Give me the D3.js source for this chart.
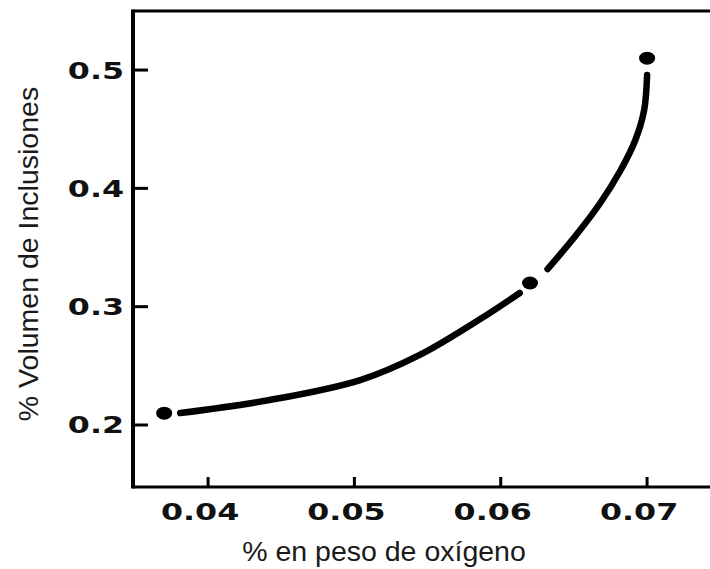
<!DOCTYPE html>
<html>
<head>
<meta charset="utf-8">
<script src="https://cdn.jsdelivr.net/npm/d3@7"></script>
<style>
  body { margin: 0; background: #fff; }
  .tick-label { font-family: "DejaVu Sans", sans-serif; font-weight: bold; font-size: 23.5px; fill: #111; }
  .axis-title { font-family: "Liberation Sans", Arial, sans-serif; font-size: 28.5px; fill: #1a1a1a; }
</style>
</head>
<body>
<div id="figure"></div>
<script>
'use strict';

// measured points
const oxygen = [0.037, 0.062, 0.070];
const inclusions = [0.21, 0.32, 0.51];

// hand-drawn curve, null splits the two segments
const curveX = [0.0381, 0.0442, 0.0504, 0.0545, 0.0586, 0.0613, null, 0.0632, 0.0651, 0.0668, 0.0682, 0.0692, 0.0698, 0.0700];
const curveY = [0.2101, 0.2211, 0.2380, 0.2595, 0.2896, 0.3116, null, 0.3318, 0.3597, 0.3876, 0.4155, 0.4409, 0.4662, 0.4958];

const xTicks = [0.04, 0.05, 0.06, 0.07];
const yTicks = [0.2, 0.3, 0.4, 0.5];

const width = 710;
const height = 569;
const margin = { left: 133, right: 0, top: 11, bottom: 82 };

const x = d3.scaleLinear()
  .domain([0.03487, 0.0743])
  .range([margin.left, width - margin.right]);

const y = d3.scaleLinear()
  .domain([0.1476, 0.5499])
  .range([height - margin.bottom, margin.top]);

const svg = d3.select("div#figure")
  .append("svg")
  .attr("width", width)
  .attr("height", height);

// frame: left, top, bottom (no right side)
svg.append("line")
  .attr("x1", margin.left).attr("x2", margin.left)
  .attr("y1", margin.top - 1.5).attr("y2", height - margin.bottom + 1.5)
  .attr("stroke", "#000").attr("stroke-width", 4);
svg.append("line")
  .attr("x1", margin.left).attr("x2", width)
  .attr("y1", margin.top).attr("y2", margin.top)
  .attr("stroke", "#000").attr("stroke-width", 3);
svg.append("line")
  .attr("x1", margin.left).attr("x2", width)
  .attr("y1", height - margin.bottom).attr("y2", height - margin.bottom)
  .attr("stroke", "#000").attr("stroke-width", 3);

// ticks point inward
svg.append("g")
  .selectAll("line")
  .data(yTicks)
  .join("line")
  .attr("x1", margin.left).attr("x2", margin.left + 15)
  .attr("y1", d => y(d)).attr("y2", d => y(d))
  .attr("stroke", "#000").attr("stroke-width", 3);

svg.append("g")
  .selectAll("line")
  .data(xTicks)
  .join("line")
  .attr("x1", d => x(d)).attr("x2", d => x(d))
  .attr("y1", height - margin.bottom).attr("y2", height - margin.bottom - 10)
  .attr("stroke", "#000").attr("stroke-width", 3);

// wide old-style numerals: stretch horizontally
const stretch = 1.35;

svg.append("g")
  .selectAll("text")
  .data(yTicks)
  .join("text")
  .classed("tick-label", true)
  .attr("transform", d => `translate(${margin.left - 9}, ${y(d)}) scale(${stretch}, 1)`)
  .attr("dy", "0.36em")
  .attr("text-anchor", "end")
  .text(d => d3.format(".1f")(d));

svg.append("g")
  .selectAll("text")
  .data(xTicks)
  .join("text")
  .classed("tick-label", true)
  .attr("transform", d => `translate(${x(d) - 8}, 520) scale(${stretch}, 1)`)
  .attr("text-anchor", "middle")
  .text(d => d3.format(".2f")(d));

// curve
const line = d3.line()
  .defined(d => d[0] != null)
  .curve(d3.curveCatmullRom)
  .x(d => x(d[0]))
  .y(d => y(d[1]));

svg.append("path")
  .datum(d3.zip(curveX, curveY))
  .attr("fill", "none")
  .attr("stroke", "#000")
  .attr("stroke-width", 6.5)
  .attr("stroke-linecap", "round")
  .attr("d", line);

svg.append("g")
  .selectAll("ellipse")
  .data(d3.zip(oxygen, inclusions))
  .join("ellipse")
  .attr("cx", d => x(d[0]))
  .attr("cy", d => y(d[1]))
  .attr("rx", 8)
  .attr("ry", 6.5)
  .attr("fill", "#000");

// axis titles
svg.append("text")
  .classed("axis-title", true)
  .attr("x", 384)
  .attr("y", 561)
  .attr("text-anchor", "middle")
  .text("% en peso de oxígeno");

svg.append("text")
  .classed("axis-title", true)
  .attr("transform", "translate(38, 254) rotate(-90)")
  .attr("text-anchor", "middle")
  .text("% Volumen de Inclusiones");
</script>
</body>
</html>
